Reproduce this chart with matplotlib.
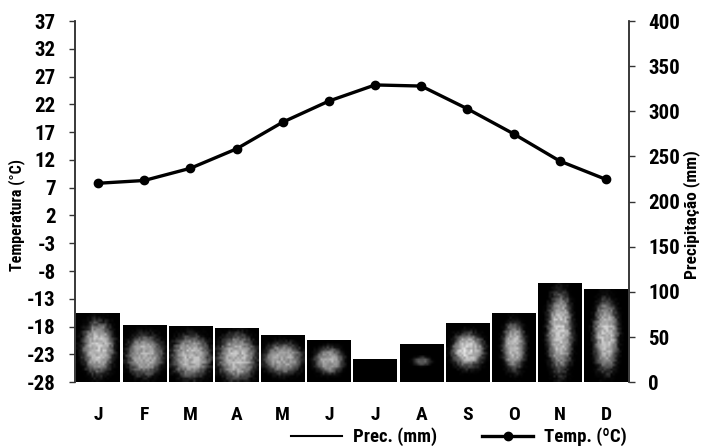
import numpy as np
import matplotlib
matplotlib.use("Agg")
import matplotlib.pyplot as plt
from matplotlib import font_manager
import matplotlib.patheffects as pe
from matplotlib.lines import Line2D

# procura uma fonte estreita com versão negrito
fontes = font_manager.fontManager.ttflist
negrito = {f.name for f in fontes
           if ('Narrow' in f.name or 'Condensed' in f.name) and f.weight in (700, 'bold')}
preferidas = ['Liberation Sans Narrow', 'Arial Narrow', 'Roboto Condensed',
              'DejaVu Sans Condensed', 'Open Sans Condensed']
fonte = next((n for n in preferidas if n in negrito), None)
if fonte is None:
    fonte = sorted(negrito)[-1] if negrito else 'DejaVu Sans'
grosso = [] if negrito else [pe.withStroke(linewidth=0.9, foreground='black')]

plt.rcParams['font.family'] = [fonte, 'DejaVu Sans']
plt.rcParams['font.weight'] = 'bold'
plt.rcParams['axes.unicode_minus'] = False

# Dados climáticos mensais
meses = ["J", "F", "M", "A", "M", "J", "J", "A", "S", "O", "N", "D"]
temperatura = [7.8, 8.3, 10.5, 14.0, 18.8, 22.6, 25.5, 25.3, 21.2, 16.7, 11.8, 8.5]
precipitacao = [77, 63, 62, 60, 52, 47, 26, 42, 66, 77, 110, 103]

# Mancha clara dentro de cada barra: (cx, cy, sx, sy, intensidade)
manchas = [
    (0.0, 0.49, 0.70, 0.36, 0.80),
    (0.0, 0.47, 0.80, 0.35, 0.72),
    (0.0, 0.45, 0.85, 0.37, 0.75),
    (0.0, 0.45, 0.85, 0.40, 0.75),
    (0.0, 0.50, 0.85, 0.33, 0.68),
    (0.0, 0.50, 0.65, 0.30, 0.68),
    (0.0, 0.50, 0.30, 0.10, 0.00),
    (0.0, 0.55, 0.40, 0.12, 0.40),
    (0.0, 0.53, 0.70, 0.28, 0.85),
    (0.0, 0.51, 0.50, 0.33, 0.75),
    (0.0, 0.50, 0.55, 0.38, 0.80),
    (0.0, 0.50, 0.55, 0.37, 0.78),
]

fig = plt.figure(figsize=(7.04, 4.48), dpi=100)
ax = fig.add_axes([0.1065, 0.147, 0.787, 0.806])
ax2 = ax.twinx()

x = np.arange(len(meses))
largura = 0.94
barras = ax2.bar(x, precipitacao, width=largura, color='black', zorder=1)

# textura granulada dentro das barras
grao = np.random.default_rng(3)
for xi, h, b, (cx, cy, sx, sy, pk) in zip(x, precipitacao, barras, manchas):
    if pk <= 0:
        continue
    xs = np.linspace(-1, 1, 20)
    ys = np.linspace(0, 1, max(int(h / 2.5), 6))
    X, Y = np.meshgrid(xs, ys)
    r2 = ((X - cx) / sx) ** 2 + ((Y - cy) / sy) ** 2
    r2 = r2 * (0.8 + 0.4 * grao.random(X.shape))
    v = pk * np.exp(-r2 ** 2) * (0.75 + 0.35 * grao.random(X.shape))
    v = np.clip(v, 0, 1)
    img = np.dstack([v, v, v, np.ones_like(v)])
    im = ax2.imshow(img, extent=(xi - largura / 2, xi + largura / 2, 0, h),
                    origin='lower', aspect='auto', zorder=2, interpolation='bilinear')
    im.set_clip_path(b)

ax2.set_xlim(-0.5, 11.5)
ax2.set_ylim(0, 400)
ax2.set_yticks(range(0, 401, 50))

ax.plot(x, temperatura, color='black', lw=2.4, marker='o', markersize=6, zorder=5)
ax.set_xlim(-0.5, 11.5)
ax.set_ylim(-28, 37)
ax.set_yticks(range(-28, 38, 5))
ax.set_zorder(ax2.get_zorder() + 1)
ax.patch.set_visible(False)

ax.set_xticks(x)
ax.set_xticklabels(meses)

for a in (ax, ax2):
    for s in ('top', 'bottom'):
        a.spines[s].set_visible(False)
    for s in ('left', 'right'):
        a.spines[s].set_linewidth(1.1)
        a.spines[s].set_color('#333333')

ax.tick_params(axis='y', direction='out', length=4, width=1, colors='#333333',
               labelcolor='black', labelsize=15, pad=10)
ax2.tick_params(axis='y', direction='out', length=4, width=1, colors='#333333',
                labelcolor='black', labelsize=15, pad=10)
ax.tick_params(axis='x', length=0, labelsize=14, pad=17)
ax2.tick_params(axis='x', length=0, labelbottom=False)

for t in ax.get_yticklabels() + ax2.get_yticklabels() + ax.get_xticklabels():
    t.set_path_effects(grosso)

fig.text(0.024, 0.52, "Temperatura (°C)", rotation=90, ha='center', va='center',
         fontsize=11.5, path_effects=grosso)
fig.text(0.982, 0.52, "Precipitação (mm)", rotation=90, ha='center', va='center',
         fontsize=12.5, path_effects=grosso)

handles = [Line2D([], [], color='black', lw=1.5),
           Line2D([], [], color='black', lw=2.4, marker='o', markersize=6)]
leg = fig.legend(handles, ["Prec. (mm)", "Temp. (ºC)"], loc='center',
                 bbox_to_anchor=(0.652, 0.025), ncol=2, frameon=False, fontsize=13.5,
                 handlelength=2.7, handletextpad=0.6, columnspacing=2.4)
for t in leg.get_texts():
    t.set_path_effects(grosso)

fig.savefig("out.png", dpi=100)
